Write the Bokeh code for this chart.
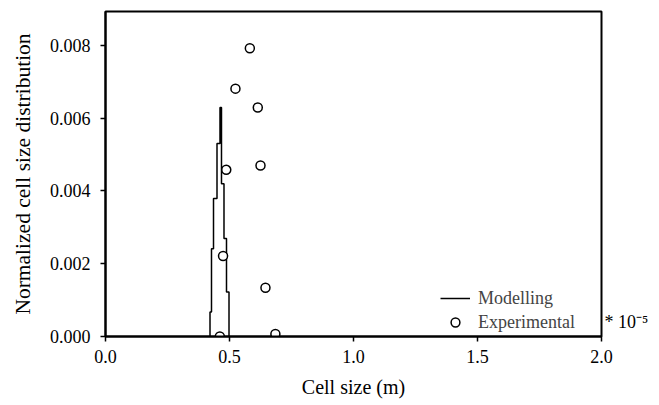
from bokeh.plotting import figure
from bokeh.models import (FixedTicker, PrintfTickFormatter, Legend, LegendItem, Range1d,
                          LinearAxis)
from bokeh.embed import file_html
from bokeh.resources import INLINE

# Modelling curve: stepped outline of the simulated distribution
model_x = [0.4214, 0.4214, 0.4274, 0.4274, 0.4355, 0.4355, 0.4496, 0.4496, 0.4617, 0.4617,
           0.4677, 0.4677, 0.4778, 0.4778, 0.4879, 0.4879, 0.4980, 0.4980]
model_y = [0.0, 0.00067, 0.00067, 0.00241, 0.00241, 0.00379, 0.00379, 0.0053, 0.0053, 0.00629,
           0.00629, 0.0042, 0.0042, 0.00269, 0.00269, 0.00122, 0.00122, 0.0]

# Experimental points
exp_x = [0.461, 0.685, 0.645, 0.474, 0.487, 0.625, 0.614, 0.524, 0.582]
exp_y = [0.0, 0.00007, 0.00134, 0.00221, 0.00458, 0.0047, 0.00629, 0.00681, 0.00792]

x_ticks = [0.0, 0.5, 1.0, 1.5, 2.0]
y_ticks = [0.0, 0.002, 0.004, 0.006, 0.008]
multiplier_text = "* 10\u207b\u2075"
multiplier_pos = 0.0004

FONT = "Liberation Serif"

p = figure(width=659, height=405, output_backend="svg", toolbar_location=None,
           min_border_left=105, min_border_right=58, min_border_top=11, min_border_bottom=69,
           x_range=Range1d(0, 2.0), y_range=Range1d(0, 0.00893))

p.grid.visible = False
p.outline_line_color = "black"
p.outline_line_width = 2
p.background_fill_color = "white"
p.border_fill_color = "white"

for ax in (p.xaxis[0], p.yaxis[0]):
    ax.axis_line_width = 2
    ax.axis_line_color = "black"
    ax.major_tick_line_width = 1.5
    ax.major_tick_out = 5
    ax.major_tick_in = 0
    ax.minor_tick_line_color = None
    ax.major_label_text_font = FONT
    ax.major_label_text_font_size = "18px"
    ax.major_label_text_color = "black"
    ax.axis_label_text_font = FONT
    ax.axis_label_text_font_style = "normal"
    ax.axis_label_text_color = "black"

p.xaxis[0].axis_label_text_font_size = "20px"
p.yaxis[0].axis_label_text_font_size = "21.5px"
p.xaxis.ticker = FixedTicker(ticks=x_ticks)
p.yaxis.ticker = FixedTicker(ticks=y_ticks)
p.xaxis.formatter = PrintfTickFormatter(format="%.1f")
p.yaxis.formatter = PrintfTickFormatter(format="%.3f")
p.xaxis.axis_label = "Cell size (m)"
p.yaxis.axis_label = "Normalized cell size distribution"
p.xaxis.major_label_standoff = 8
p.xaxis.axis_label_standoff = 10
p.yaxis.major_label_standoff = 10
p.yaxis.axis_label_standoff = 12

# right-hand axis used only to carry the "* 10^-5" multiplier text
mult_axis = LinearAxis(ticker=FixedTicker(ticks=[multiplier_pos]),
                       major_label_overrides={multiplier_pos: multiplier_text},
                       axis_line_color=None, major_tick_line_color=None,
                       minor_tick_line_color=None, major_label_standoff=-3,
                       major_label_text_font=FONT, major_label_text_font_size="18px",
                       major_label_text_color="black")
p.add_layout(mult_axis, "right")

r_model = p.line(model_x, model_y, line_color="black", line_width=1.5)
r_exp = p.scatter(exp_x, exp_y, marker="circle", size=9, fill_color="white",
                  line_color="black", line_width=1.5)

legend = Legend(items=[LegendItem(label="Modelling", renderers=[r_model]),
                       LegendItem(label="Experimental", renderers=[r_exp])],
                location=(335, 3), padding=0, margin=0, spacing=2,
                glyph_width=30, glyph_height=22, label_height=22, label_standoff=8,
                label_text_font=FONT, label_text_font_size="18px",
                background_fill_alpha=0, border_line_color=None)
p.add_layout(legend, "center")

open("out.html", "w").write(file_html(p, INLINE))
